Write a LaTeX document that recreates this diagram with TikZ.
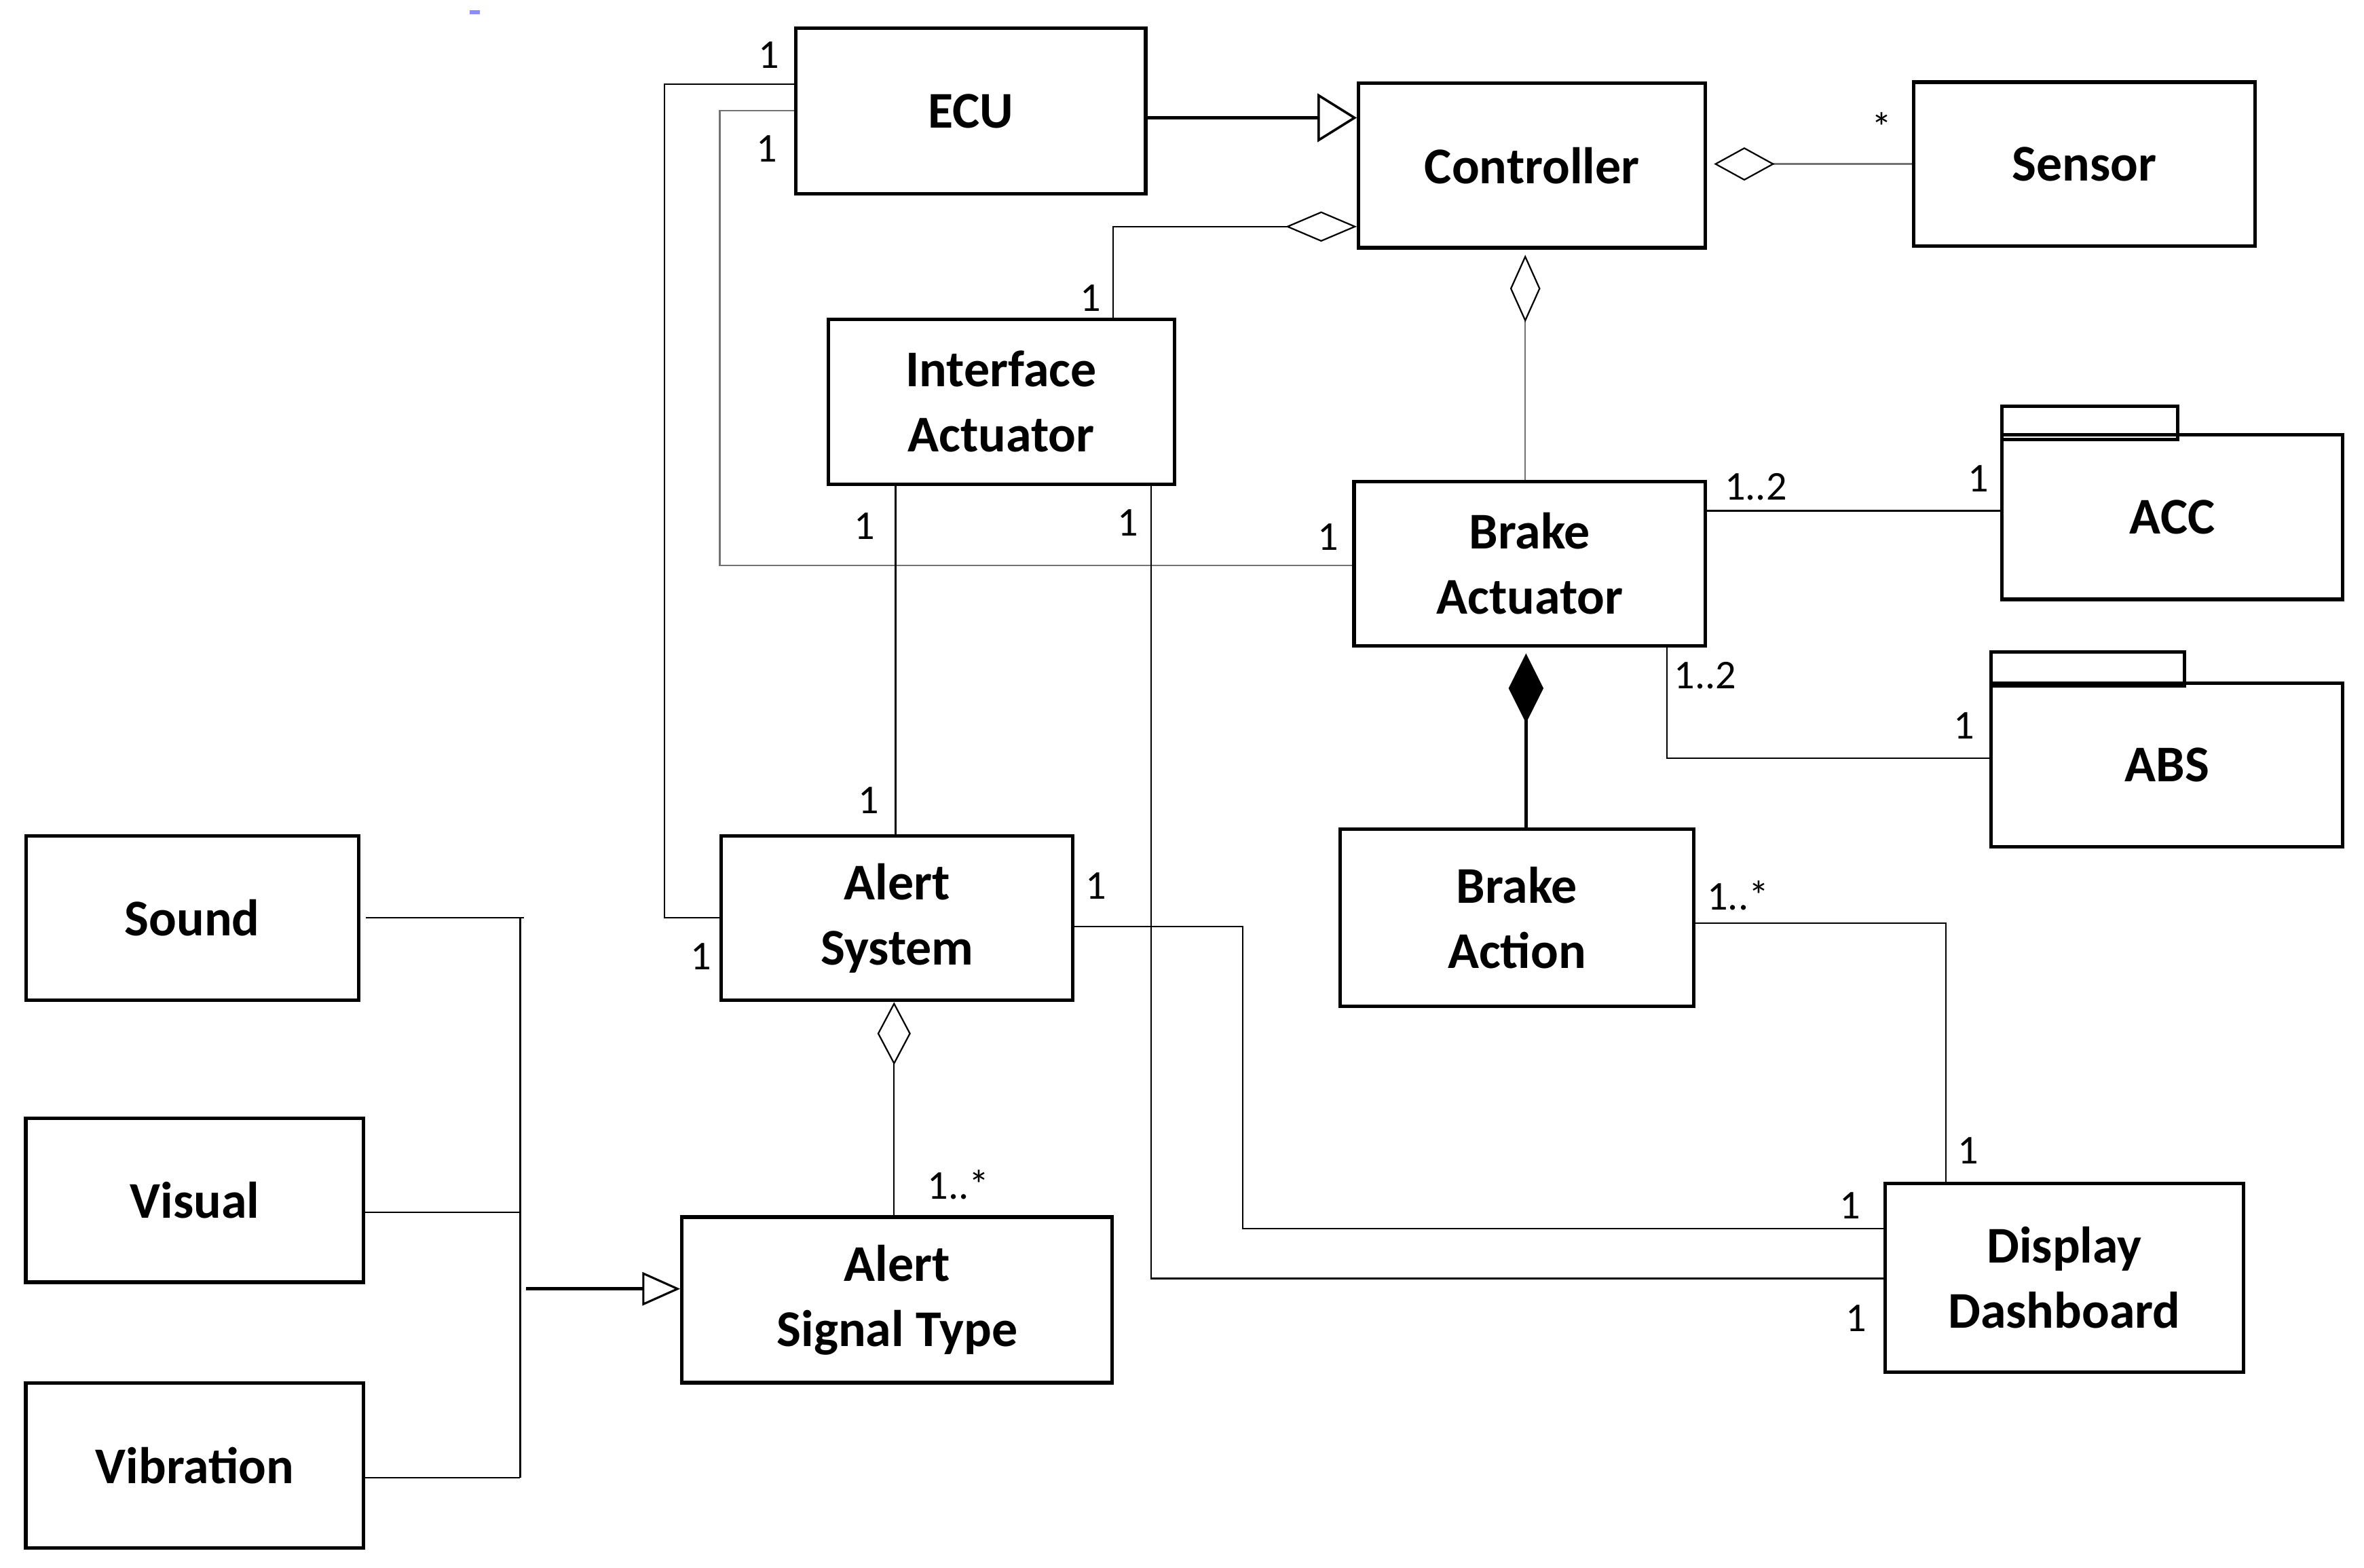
\documentclass[tikz,border=0pt]{standalone}
\usepackage{fontspec}
\setmainfont{Carlito}
\usetikzlibrary{arrows.meta}
\begin{document}
\begin{tikzpicture}[x=1pt,y=-1pt,
  cls/.style={draw, line width=2.3pt, rectangle, inner sep=0pt, align=center,
    font=\fontsize{34}{43}\selectfont\bfseries},
  pkgtab/.style={draw, line width=2.3pt},
  mult/.style={inner sep=0pt, font=\fontsize{27}{30}\selectfont},
  assoc/.style={line width=1pt, draw=black},
  assocg/.style={line width=1pt, draw=black!55},
  genthick/.style={line width=2pt},
]
\useasboundingbox (0,0) rectangle (1560,1034.2);
\fill[white] (0,0) rectangle (1560,1034.2);
\fill[blue!45!white] (310,6.5) rectangle (316.5,9.5);

% classes
\node[cls, minimum width=231pt, minimum height=109pt] (ECU) at (640.5,73.2) {ECU};
\node[cls, minimum width=229pt, minimum height=108.6pt] (Ctrl) at (1011,109.2) {Controller};
\node[cls, minimum width=225pt, minimum height=108pt] (Sensor) at (1375.5,108.2) {Sensor};
\node[cls, minimum width=228.5pt, minimum height=108.8pt] (IfAct) at (660.7,265) {Interface\\Actuator};
\node[cls, minimum width=232pt, minimum height=108.4pt] (BrAct) at (1009.5,371.8) {Brake\\Actuator};
\node[cls, minimum width=225pt, minimum height=108.5pt] (ACC) at (1433.5,341.2) {ACC};
\node[cls, minimum width=232pt, minimum height=108pt] (ABS) at (1430,504.6) {ABS};
\node[cls, minimum width=233pt, minimum height=117pt] (BrAction) at (1001,605.5) {Brake\\Action};
\node[cls, minimum width=232pt, minimum height=108.5pt] (AlSys) at (592,605.8) {Alert\\System};
\node[cls, minimum width=219.5pt, minimum height=108.5pt] (Sound) at (126.8,605.8) {Sound};
\node[cls, minimum width=223pt, minimum height=108.3pt] (Visual) at (128.5,791.9) {Visual};
\node[cls, minimum width=223pt, minimum height=109pt] (Vibr) at (128.5,966.9) {Vibration};
\node[cls, minimum width=284pt, minimum height=109.3pt] (AlSig) at (592,857.7) {Alert\\Signal Type};
\node[cls, minimum width=236.7pt, minimum height=124.3pt] (Disp) at (1362.2,843.2) {Display\\Dashboard};

% package tabs
\draw[pkgtab] (1321,268) rectangle (1437,290);
\draw[pkgtab] (1314,430) rectangle (1441.5,452.5);

% ECU generalizes Controller
\draw[genthick, -{Triangle[open,length=26pt,width=32pt,line width=1.6pt]}]
  (ECU.east |- 0,77.7) -- (Ctrl.west |- 0,77.7);
% Controller <>-- Sensor
\draw[assocg, {Diamond[open,length=40pt,width=22pt,line width=1pt,color=black]}-, shorten <=4.4pt]
  (Ctrl.east |- 0,108.2) -- (Sensor.west |- 0,108.2);
% Interface Actuator --<> Controller
\draw[assoc, -{Diamond[open,length=47pt,width=20pt,line width=1pt]}]
  (IfAct.north -| 734.5,0) |- (Ctrl.west |- 0,149.5);
% Controller <>-- Brake Actuator
\draw[assocg, {Diamond[open,length=44.5pt,width=20pt,line width=1pt,color=black]}-, shorten <=3.5pt]
  (Ctrl.south -| 1006.5,0) -- (BrAct.north -| 1006.5,0);
% Brake Actuator <#>-- Brake Action
\draw[genthick, {Diamond[length=46pt,width=23pt,line width=1pt]}-, shorten <=4pt]
  (BrAct.south -| 1007,0) -- (BrAction.north -| 1007,0);
% Brake Actuator -- ACC
\draw[assoc] (BrAct.east |- 0,337) -- (ACC.west |- 0,337);
% Brake Actuator -- ABS
\draw[assoc] (BrAct.south -| 1100,0) |- (ABS.west |- 0,500.3);
% ECU -- Alert System
\coordinate (ecuA) at (438.5,605.4);
\draw[assoc] (ECU.west |- 0,55.7) -| (ecuA) -- (AlSys.west |- 0,605.4);
% ECU -- Brake Actuator
\coordinate (ecuB) at (475,373);
\draw[assocg] (ECU.west |- 0,73) -| (ecuB) -- (BrAct.west |- 0,373);
% Interface Actuator -- Alert System
\draw[assoc] (IfAct.south -| 591,0) -- (AlSys.north -| 591,0);
% Interface Actuator -- Display Dashboard
\draw[assoc] (IfAct.south -| 759.5,0) |- (Disp.west |- 0,843.6);
% Alert System -- Display Dashboard
\coordinate (asd) at (820,810.7);
\draw[assoc] (AlSys.east |- 0,611.5) -| (asd) -- (Disp.west |- 0,810.7);
% Brake Action -- Display Dashboard
\draw[assoc] (BrAction.east |- 0,609) -| (Disp.north -| 1284,0);
% Alert System <>-- Alert Signal Type
\draw[assoc, {Diamond[open,length=41.5pt,width=22pt,line width=1pt]}-]
  (AlSys.south -| 590,0) -- (AlSig.north -| 590,0);
% Sound / Visual / Vibration generalize Alert Signal Type
\coordinate (hubT) at (343.3,605.4);
\coordinate (hubB) at (343.3,975);
\coordinate (hubA) at (347,850.4);
\draw[assoc] ([xshift=3.5pt]Sound.east |- 0,605.4) -- (345.7,605.4);
\draw[assoc] (Visual.east |- 0,800) -- (hubT |- 0,800);
\draw[assoc] (Vibr.east |- 0,975) -- (hubB);
\draw[assoc] (hubT) -- (hubB);
\draw[genthick, -{Triangle[open,length=25pt,width=22pt,line width=1.4pt]}]
  (hubA) -- (AlSig.west |- hubA);

% multiplicities
\node[mult] at (507.5,36.3) {1};
\node[mult] at (506,98) {1};
\node[mult] at (719.7,196.6) {1};
\node[mult] at (570.6,347) {1};
\node[mult] at (744.4,345) {1};
\node[mult] at (876.5,354.4) {1};
\node[mult] at (1241.8,83.8) {*};
\node[mult] at (1158.6,321) {1..2};
\node[mult] at (1305.6,315.8) {1};
\node[mult] at (1125.4,445.6) {1..2};
\node[mult] at (1296,479) {1};
\node[mult] at (573,528) {1};
\node[mult] at (462.7,631) {1};
\node[mult] at (723.4,584.5) {1};
\node[mult] at (632.6,781.6) {1..*};
\node[mult] at (1147,591) {1..*};
\node[mult] at (1298.6,759) {1};
\node[mult] at (1221,795.3) {1};
\node[mult] at (1225,869.8) {1};
\end{tikzpicture}
\end{document}
